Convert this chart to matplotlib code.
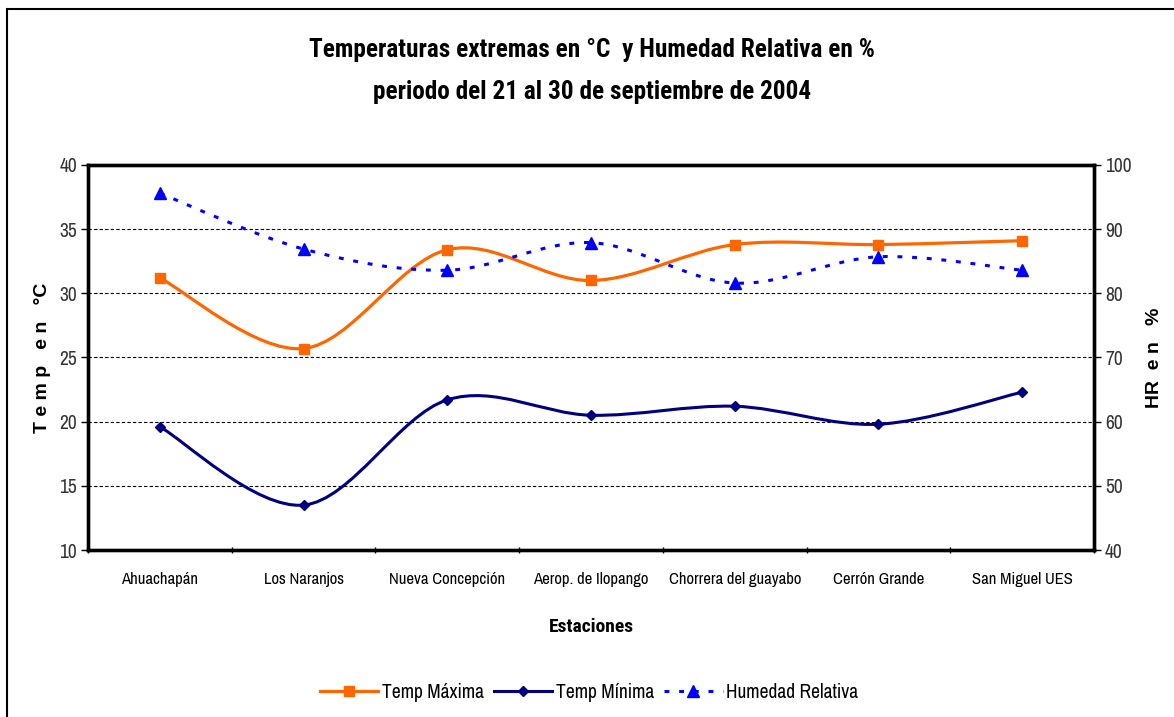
import numpy as np
import matplotlib.pyplot as plt
from matplotlib.path import Path
from matplotlib.patches import PathPatch, Rectangle
from matplotlib.lines import Line2D

# Estaciones y valores (21-30 sept 2004)
estaciones = ['Ahuachapán', 'Los Naranjos', 'Nueva Concepción', 'Aerop. de Ilopango',
              'Chorrera del guayabo', 'Cerrón Grande', 'San Miguel UES']
temp_max = [31.2, 25.7, 33.4, 31.0, 33.8, 33.8, 34.1]
temp_min = [19.6, 13.5, 21.7, 20.5, 21.2, 19.8, 22.3]
humedad = [95.6, 86.9, 83.6, 87.9, 81.6, 85.7, 83.6]

NARROW = ['Liberation Sans Narrow', 'Archivo Narrow', 'Fira Sans Condensed', 'DejaVu Sans']
NARROW_BOLD = ['Liberation Sans Narrow', 'Roboto Condensed', 'Asap Condensed', 'DejaVu Sans']
ARIAL = ['Liberation Sans', 'DejaVu Sans']


def smooth_path(x, y):
    """Curva suavizada tipo Excel: segmentos Bezier cubicos entre los puntos."""
    p = np.column_stack([x, y]).astype(float)
    n = len(p)
    verts = [p[0]]
    codes = [Path.MOVETO]
    for i in range(n - 1):
        p0 = p[max(i - 1, 0)]
        p1 = p[i]
        p2 = p[i + 1]
        p3 = p[min(i + 2, n - 1)]
        verts += [p1 + (p2 - p0) / 6, p2 - (p3 - p1) / 6, p2]
        codes += [Path.CURVE4] * 3
    return Path(verts, codes)


x = np.arange(len(estaciones))

fig = plt.figure(figsize=(11.74, 7.17), dpi=100)
fig.patch.set_facecolor('white')
# marco del area del grafico (solo se ven los bordes izquierdo y superior)
fig.patches.append(Rectangle((7 / 1174, -0.05), 1.1, 1.05 - 9 / 717, transform=fig.transFigure,
                             fill=False, edgecolor='black', linewidth=1.5))

ax = fig.add_axes([88 / 1174, 1 - 550 / 717, (1094 - 88) / 1174, (550 - 165) / 717])
ax2 = ax.twinx()

ax.set_xlim(-0.5, len(estaciones) - 0.5)
ax.set_ylim(10, 40)
ax2.set_ylim(40, 100)

# lineas
ax.add_patch(PathPatch(smooth_path(x, temp_max), fill=False, edgecolor='#FF6600',
                       linewidth=2.3, zorder=3))
ax.plot(x, temp_max, linestyle='none', marker='s', markersize=7,
        color='#FF6600', zorder=4)
ax.add_patch(PathPatch(smooth_path(x, temp_min), fill=False, edgecolor='#000080',
                       linewidth=2.2, zorder=3))
ax.plot(x, temp_min, linestyle='none', marker='D', markersize=5,
        color='#000080', zorder=4)
ax2.add_patch(PathPatch(smooth_path(x, humedad), fill=False, edgecolor='#0000FF',
                        linewidth=2.2, linestyle=(0, (1.6, 3.2)), zorder=3))
ax2.plot(x, humedad, linestyle='none', marker='^', markersize=8,
         color='#0000FF', zorder=4)

# ejes
ax.set_yticks(range(10, 41, 5))
ax2.set_yticks(range(40, 101, 10))
ax.set_xticks(x)
ax.set_xticks(np.arange(-0.5, len(estaciones)), minor=True)
ax.set_xticklabels(estaciones, family=NARROW, fontsize=12)
ax.tick_params(axis='x', which='major', length=0, pad=16)
ax.tick_params(axis='x', which='minor', length=5, width=1, direction='inout')
ax.tick_params(axis='y', length=5, width=1, labelsize=14, pad=3)
ax2.tick_params(axis='y', length=5, width=1, labelsize=14, pad=3)
for lab in ax.get_yticklabels() + ax2.get_yticklabels():
    lab.set_family(NARROW)
    lab.set_color('#333333')

ax.yaxis.grid(True, linestyle=(0, (3, 2)), color='black', linewidth=0.8)
for a in (ax, ax2):
    for s in a.spines.values():
        s.set_linewidth(2.4)
        s.set_color('black')

ax.set_xlabel('Estaciones', family=NARROW_BOLD, fontsize=14, fontweight='bold', labelpad=22)
ax.set_ylabel('T e m p   e n   °C', family=ARIAL, fontsize=14, fontweight='bold', labelpad=6)
ax2.set_ylabel('HR  e n   %', family=ARIAL, fontsize=14, fontweight='bold', labelpad=10)

fig.text(0.504, 1 - 50 / 717, 'Temperaturas extremas en °C  y Humedad Relativa en %',
         ha='center', va='center', family=NARROW_BOLD, fontsize=18.2, fontweight='bold')
fig.text(0.504, 1 - 92 / 717, 'periodo del 21 al 30 de septiembre de 2004',
         ha='center', va='center', family=NARROW_BOLD, fontsize=18.2, fontweight='bold')

handles = [
    Line2D([], [], color='#FF6600', linewidth=2.3, marker='s', markersize=7),
    Line2D([], [], color='#000080', linewidth=2.2, marker='D', markersize=5),
    Line2D([], [], color='#0000FF', linewidth=2.2, linestyle=(0, (1.6, 3.2)),
           marker='^', markersize=8),
]
fig.legend(handles, ['Temp Máxima', 'Temp Mínima', 'Humedad Relativa'],
           loc='center', bbox_to_anchor=(0.502, 1 - 692 / 717), ncol=3, frameon=False,
           prop={'family': NARROW, 'size': 14}, handlelength=3.0, handletextpad=0.2,
           columnspacing=0.5)

fig.savefig('out.png', dpi=100, facecolor='white')
